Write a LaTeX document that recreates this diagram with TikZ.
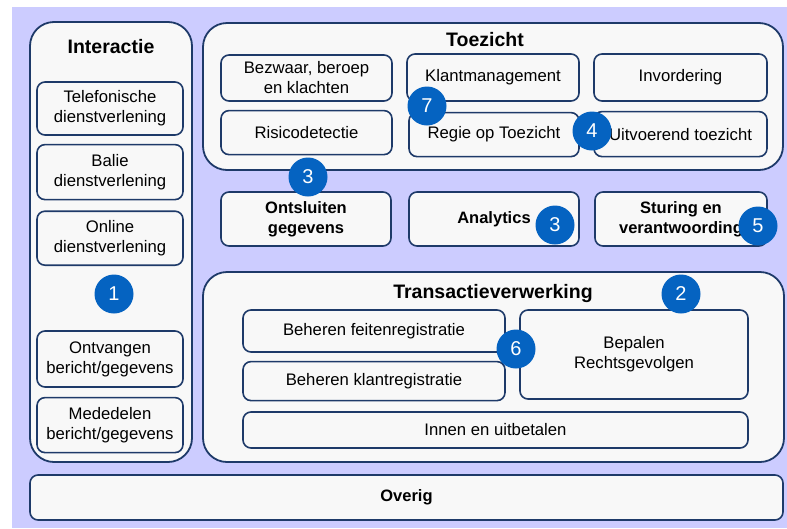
\documentclass[tikz,border=0pt]{standalone}
\usepackage{fontspec}
\setmainfont{Liberation Sans}
\usepackage{tikz}
\usetikzlibrary{positioning}

\definecolor{lavendel}{RGB}{204,204,255}
\definecolor{donkerblauw}{RGB}{30,58,105}
\definecolor{blokwit}{RGB}{248,248,248}
\definecolor{bolblauw}{RGB}{5,99,193}

\begin{document}
\begin{tikzpicture}[x=1pt,y=-1pt,node distance=8pt,
  laag/.style={draw=donkerblauw, line width=1.8pt, rounded corners=24pt, fill=blokwit, inner sep=0pt},
  blok/.style={draw=donkerblauw, line width=1.6pt, rounded corners=8pt, fill=blokwit, align=center, inner sep=0pt, font=\fontsize{16.7}{20}\selectfont},
  vetblok/.style={blok, font=\bfseries\fontsize{16.5}{20}\selectfont},
  kop/.style={font=\bfseries\fontsize{19.5}{22}\selectfont},
  nummer/.style={circle, fill=bolblauw, text=white, minimum size=39pt, inner sep=0pt, font=\fontsize{20}{20}\selectfont}]

\useasboundingbox (0,0) rectangle (787,528);
\fill[lavendel] (12,7) rectangle (787,528);

\node[laag, minimum width=162, minimum height=440] (interactie) at (111,242) {};
\node[kop] (interactieKop) at (111,47) {Interactie};
\node[blok, minimum width=146, minimum height=53] (telefonisch) at (110,108.5) {Telefonische\\dienstverlening};
\node[blok, minimum width=146, minimum height=55] (balie) [below=of telefonisch] {Balie\\dienstverlening};
\node[blok, minimum width=146, minimum height=54] (online) [below=10pt of balie] {Online\\dienstverlening};
\node[blok, minimum width=146, minimum height=56] (ontvangen) at (110,359) {Ontvangen\\bericht/gegevens};
\node[blok, minimum width=146, minimum height=55] (mededelen) [below=9pt of ontvangen] {Mededelen\\bericht/gegevens};

\node[laag, minimum width=580, minimum height=147] (toezicht) at (493,96.5) {};
\node[kop] (toezichtKop) at (485,40) {Toezicht};
\node[blok, minimum width=171, minimum height=46] (bezwaar) at (306.5,78) {Bezwaar, beroep\\en klachten};
\node[blok, minimum width=171, minimum height=44] (risico) [below=of bezwaar] {Risicodetectie};
\node[blok, minimum width=172, minimum height=47] (klant) at (493,77.5) {Klantmanagement};
\node[blok, minimum width=170, minimum height=44] (regie) [below=10pt of klant, xshift=1pt] {Regie op Toezicht};
\node[blok, minimum width=173, minimum height=47] (invordering) at (680.5,77.5) {Invordering};
\node[blok, minimum width=173, minimum height=45] (uitvoerend) [below=9pt of invordering] {Uitvoerend toezicht};

\node[vetblok, minimum width=170, minimum height=54] (ontsluiten) at (306,219) {Ontsluiten\\gegevens};
\node[vetblok, minimum width=170, minimum height=54] (analytics) at (494,219) {Analytics};
\node[vetblok, minimum width=172, minimum height=54] (sturing) at (681,219) {Sturing en\\verantwoording};

\node[laag, minimum width=581, minimum height=190] (transactie) at (493.5,367) {};
\node[kop] (transactieKop) at (493,293) {Transactieverwerking};
\node[blok, minimum width=262, minimum height=42] (feiten) at (374,331) {Beheren feitenregistratie};
\node[blok, minimum width=262, minimum height=39] (klantreg) [below=of feiten] {Beheren klantregistratie};
\node[blok, minimum width=228, minimum height=89] (bepalen) at (634,354.5) {Bepalen\\Rechtsgevolgen};
\node[blok, minimum width=505, minimum height=36] (innen) at (495.5,430) {Innen en uitbetalen};

\node[vetblok, minimum width=753, minimum height=45] (overig) at (406.5,497.5) {Overig};

\node[nummer] (n1) at (114,294) {1};
\node[nummer] (n2) at (681,294) {2};
\node[nummer] (n3a) at (308,177) {3};
\node[nummer] (n3b) at (555,225) {3};
\node[nummer] (n4) at (592,131) {4};
\node[nummer] (n5) at (758,226) {5};
\node[nummer] (n6) at (516,349) {6};
\node[nummer] (n7) at (427,106) {7};
\end{tikzpicture}
\end{document}
